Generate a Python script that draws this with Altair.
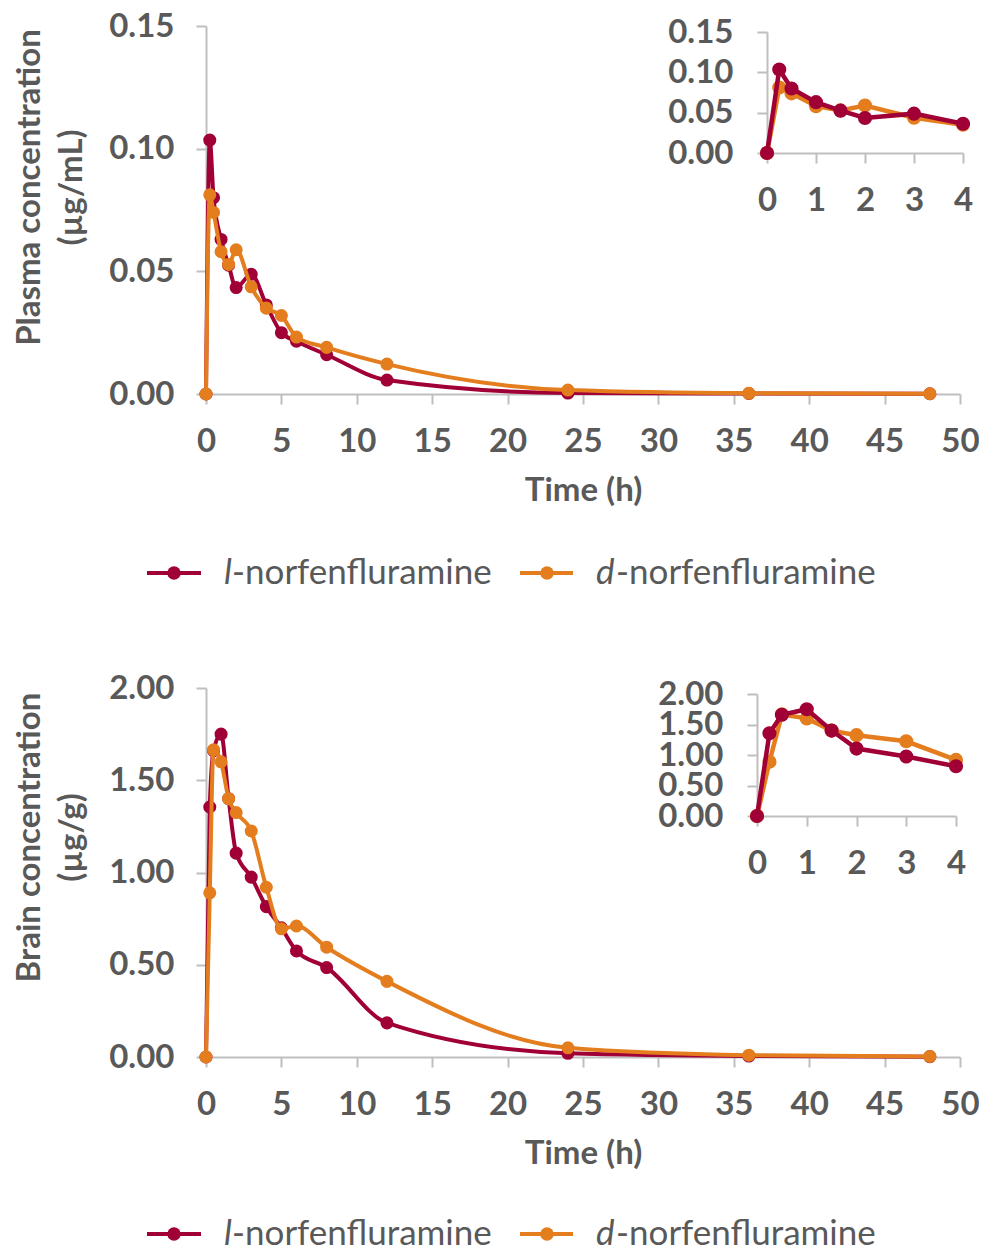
import altair as alt
import pandas as pd

# ---------------- data ----------------
time_h = [0, 0.25, 0.5, 1, 1.5, 2, 3, 4, 5, 6, 8, 12, 24, 36, 48]
plasma_l = [0, 0.1035, 0.080, 0.0630, 0.0525, 0.0434, 0.0488, 0.0363, 0.025, 0.0215, 0.016, 0.0057, 0.0004, 0.0002, 0.0001]
plasma_d = [0, 0.0812, 0.0740, 0.0580, 0.0528, 0.0588, 0.0437, 0.0350, 0.032, 0.0232, 0.019, 0.0122, 0.0016, 0.0003, 0.0001]
brain_l = [0, 1.355, 1.66, 1.75, 1.40, 1.105, 0.975, 0.815, 0.70, 0.575, 0.485, 0.185, 0.02, 0.005, 0.002]
brain_d = [0, 0.89, 1.665, 1.60, 1.40, 1.325, 1.225, 0.92, 0.695, 0.71, 0.595, 0.41, 0.05, 0.01, 0.003]

main_x_ticks = [0, 5, 10, 15, 20, 25, 30, 35, 40, 45, 50]
inset_x_ticks = [0, 1, 2, 3, 4]
plasma_y_ticks = [0.0, 0.05, 0.10, 0.15]
brain_y_ticks = [0.0, 0.5, 1.0, 1.5, 2.0]

series_names = ["l", "d"]
legend_suffix = "-norfenfluramine"

# ---------------- style ----------------
RED = "#A00035"
ORANGE = "#E47D1E"
TEXT = "#595959"
AXIS = "#BFBFBF"
FONT = "Lato"
FS = 33
LFS = 35
W, H = 757, 1031
MAIN_XR = [0, 754]

df_p_l = pd.DataFrame({"t": time_h, "c": plasma_l})
df_p_d = pd.DataFrame({"t": time_h, "c": plasma_d})
df_b_l = pd.DataFrame({"t": time_h, "c": brain_l})
df_b_d = pd.DataFrame({"t": time_h, "c": brain_d})


def axis_common():
    return dict(grid=False, domainColor=AXIS, domainWidth=2, tickColor=AXIS,
                tickWidth=2, tickSize=10, labelFont=FONT, labelFontSize=FS,
                labelFontWeight="bold", labelColor=TEXT, labelFlush=False,
                labelOverlap=False, titleFont=FONT, titleFontSize=FS,
                titleFontWeight="bold", titleColor=TEXT)


def series(df, color, xdom, ydom, xr, yr, interp, size, sw, with_axes=None):
    xs = alt.Scale(domain=xdom, range=xr, nice=False, zero=False)
    ys = alt.Scale(domain=ydom, range=yr, nice=False, zero=False)
    if with_axes is not None:
        xa = alt.Axis(**axis_common(), **with_axes["x"])
        ya = alt.Axis(**axis_common(), **with_axes["y"])
        xenc = alt.X("t:Q", scale=xs, axis=xa, title=with_axes.get("xtitle"))
        yenc = alt.Y("c:Q", scale=ys, axis=ya, title=with_axes["ytitle"])
    else:
        xenc = alt.X("t:Q", scale=xs, axis=None)
        yenc = alt.Y("c:Q", scale=ys, axis=None)
    line = alt.Chart(df).mark_line(color=color, strokeWidth=sw, interpolate=interp).encode(x=xenc, y=yenc)
    pts = alt.Chart(df).mark_circle(color=color, size=size, opacity=1).encode(
        x=alt.X("t:Q", scale=xs, axis=None), y=alt.Y("c:Q", scale=ys, axis=None))
    return [line, pts]


layers = []

# ---- Plasma main ----
pm_axes = dict(
    x=dict(values=main_x_ticks, orient="bottom", offset=-(H - 368), format="d",
           labelPadding=21, titlePadding=16),
    y=dict(values=plasma_y_ticks, orient="left", format=".2f", labelPadding=22,
           titlePadding=20, titleLineHeight=42, titleY=161),
    xtitle="Time (h)",
    ytitle=["Plasma concentration", "(µg/mL)"],
)
layers += series(df_p_l, RED, [0, 50], [0, 0.15], MAIN_XR, [368, 0], "monotone", 170, 4, pm_axes)
layers += series(df_p_d, ORANGE, [0, 50], [0, 0.15], MAIN_XR, [368, 0], "monotone", 170, 4)

# ---- Plasma inset ----
pi_axes = dict(
    x=dict(values=inset_x_ticks, orient="bottom", offset=-(H - 127), format="d", labelPadding=21),
    y=dict(values=plasma_y_ticks, orient="left", offset=-561, format=".2f", labelPadding=24),
    ytitle=None,
)
df_p_d_in = df_p_d[df_p_d.t <= 4]
df_p_l_in = df_p_l[df_p_l.t <= 4]
layers += series(df_p_d_in, ORANGE, [0, 4], [0, 0.15], [561, 757], [127, 6], "linear", 200, 4.5, pi_axes)
layers += series(df_p_l_in, RED, [0, 4], [0, 0.15], [561, 757], [127, 6], "linear", 200, 4.5)

# ---- Brain main ----
bm_axes = dict(
    x=dict(values=main_x_ticks, orient="bottom", format="d", labelPadding=21, titlePadding=16),
    y=dict(values=brain_y_ticks, orient="left", format=".2f", labelPadding=22,
           titlePadding=20, titleLineHeight=42, titleY=811),
    xtitle="Time (h)",
    ytitle=["Brain concentration", "(µg/g)"],
)
layers += series(df_b_l, RED, [0, 50], [0, 2.0], MAIN_XR, [1031, 662], "monotone", 170, 4, bm_axes)
layers += series(df_b_d, ORANGE, [0, 50], [0, 2.0], MAIN_XR, [1031, 662], "monotone", 170, 4)

# ---- Brain inset ----
bi_axes = dict(
    x=dict(values=inset_x_ticks, orient="bottom", offset=-(H - 790), format="d", labelPadding=21),
    y=dict(values=brain_y_ticks, orient="left", offset=-551, format=".2f", labelPadding=24),
    ytitle=None,
)
df_b_d_in = df_b_d[df_b_d.t <= 4]
df_b_l_in = df_b_l[df_b_l.t <= 4]
layers += series(df_b_d_in, ORANGE, [0, 4], [0, 2.0], [551, 750], [790, 668], "linear", 200, 4.5, bi_axes)
layers += series(df_b_l_in, RED, [0, 4], [0, 2.0], [551, 750], [790, 668], "linear", 200, 4.5)

# ---- legends ----
one = pd.DataFrame({"k": [0]})


def legend(ypos):
    out = []
    for name, color, x0, x1, xm, xt, xs in [
        (series_names[0], RED, -59, -5, -32, 18, 26),
        (series_names[1], ORANGE, 314, 367, 341, 390, 410),
    ]:
        out.append(alt.Chart(one).mark_rule(color=color, strokeWidth=4).encode(
            x=alt.value(x0), x2=alt.value(x1), y=alt.value(ypos)))
        out.append(alt.Chart(one).mark_circle(color=color, size=180, opacity=1).encode(
            x=alt.value(xm), y=alt.value(ypos)))
        out.append(alt.Chart(one).mark_text(font=FONT, fontSize=LFS, fontStyle="italic", color=TEXT,
                                            align="left", baseline="middle").encode(
            x=alt.value(xt), y=alt.value(ypos), text=alt.value(name)))
        out.append(alt.Chart(one).mark_text(font=FONT, fontSize=LFS, color=TEXT,
                                            align="left", baseline="middle").encode(
            x=alt.value(xs), y=alt.value(ypos), text=alt.value(legend_suffix)))
    return out


layers += legend(547)
layers += legend(1208)

chart = alt.layer(*layers).resolve_scale(x="independent", y="independent").properties(
    width=W, height=H,
    padding={"left": 198, "top": 18, "right": 16, "bottom": 191},
    autosize=alt.AutoSizeParams(type="none"),
).configure_view(stroke=None)

chart.save("out.html", embed_options={"renderer": "svg", "actions": False})
